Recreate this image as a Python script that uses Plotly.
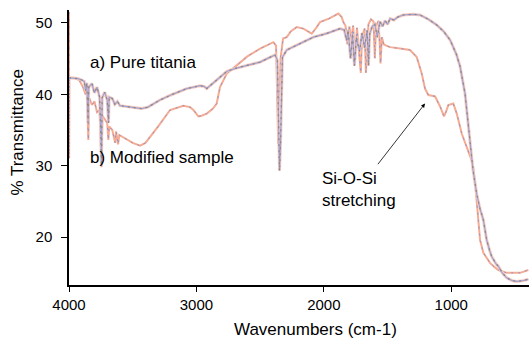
import plotly.graph_objects as go

# Pure titania (curve a)
wn_a = [4000, 3960, 3930, 3900, 3880, 3870, 3860, 3850, 3845, 3820, 3800, 3780, 3760, 3750, 3745,
        3740, 3720, 3700, 3690, 3685, 3660, 3640, 3620, 3600, 3560, 3500, 3430, 3380, 3286, 3200,
        3076, 2972, 2940, 2919, 2880, 2820, 2762, 2700, 2600, 2501, 2420, 2383, 2365, 2355, 2348,
        2340, 2332, 2325, 2291, 2187, 2082, 1980, 1873, 1840, 1820, 1810, 1790, 1775, 1760, 1745,
        1720, 1700, 1680, 1660, 1650, 1640, 1620, 1600, 1580, 1560, 1540, 1520, 1500, 1480, 1450,
        1420, 1378, 1300, 1245, 1180, 1114, 1060, 1009, 960, 931, 892, 870, 852, 830, 800, 775,
        748, 722, 700, 683, 650, 630, 600, 565, 520, 486, 440, 395]
t_a = [42.3, 42.3, 42.2, 42.0, 41.8, 40.5, 41.6, 36.0, 41.0, 41.5, 40.2, 41.0, 39.6, 34.5, 30.0,
       39.5, 40.3, 39.2, 36.0, 39.6, 39.4, 38.6, 39.0, 38.4, 38.3, 38.1, 38.0, 38.2, 39.2, 39.9,
       40.8, 41.2, 41.1, 40.8, 41.4, 42.3, 43.2, 43.6, 44.0, 44.5, 45.2, 45.5, 44.8, 35.0, 29.3,
       33.0, 42.0, 45.2, 46.2, 47.1, 48.0, 48.5, 49.2, 49.0, 47.5, 49.0, 45.0, 48.5, 44.0, 48.0,
       46.0, 48.6, 46.5, 49.0, 44.0, 48.5, 49.5, 49.8, 48.0, 50.2, 49.5, 50.3, 49.8, 50.6, 50.4,
       50.8, 51.1, 51.2, 51.1, 50.5, 49.7, 48.8, 47.6, 45.6, 43.9, 40.1, 36.0, 32.7, 29.5, 26.0, 24.0,
       22.4, 19.6, 18.2, 17.3, 16.3, 15.9, 15.0, 14.3, 13.9, 13.8, 13.9, 14.1]

# Modified sample (curve b)
wn_b = [4000, 3999, 3997, 3960, 3920, 3890, 3870, 3860, 3848, 3842, 3820, 3800, 3780, 3760, 3745,
        3738, 3720, 3700, 3691, 3685, 3660, 3638, 3630, 3615, 3605, 3560, 3500, 3442, 3400, 3300,
        3207, 3103, 3050, 3024, 2985, 2960, 2919, 2870, 2841, 2815, 2762, 2700, 2600, 2500, 2396,
        2375, 2362, 2358, 2350, 2340, 2320, 2291, 2260, 2213, 2161, 2120, 2095, 2060, 2030, 1960,
        1886, 1860, 1847, 1830, 1815, 1800, 1785, 1770, 1755, 1740, 1720, 1710, 1700, 1680, 1670,
        1660, 1650, 1630, 1610, 1600, 1590, 1570, 1555, 1545, 1530, 1510, 1480, 1402, 1324, 1271,
        1232, 1206, 1180, 1150, 1127, 1088, 1057, 1040, 1023, 984, 957, 918, 879, 850, 831, 810,
        787, 774, 748, 720, 696, 660, 630, 565, 500, 460, 395]
t_b = [51.5, 31.0, 42.3, 42.3, 42.0, 41.0, 40.0, 40.5, 33.6, 39.5, 38.5, 39.0, 37.5, 37.8, 29.8,
       37.0, 36.5, 36.0, 33.6, 35.5, 35.0, 33.2, 34.8, 33.0, 34.3, 33.8, 33.2, 32.8, 33.2, 35.5,
       37.8, 38.4, 38.2, 37.8, 36.9, 37.0, 37.3, 38.0, 38.7, 41.0, 42.9, 43.8, 45.3, 46.4, 47.3,
       46.8, 38.0, 33.0, 36.0, 45.0, 47.8, 48.0, 48.8, 49.4, 49.2, 48.8, 48.5, 49.3, 50.1, 50.6,
       51.3, 50.8, 50.1, 49.6, 47.0, 49.5, 47.5, 49.6, 45.0, 49.3, 45.5, 43.0, 48.0, 49.2, 43.0,
       47.0, 49.8, 50.5, 50.2, 45.0, 49.6, 50.3, 44.3, 48.0, 47.0, 46.8, 46.6, 46.4, 46.2, 45.2,
       42.9, 40.8, 39.9, 39.8, 39.7, 38.3, 36.9, 37.6, 38.5, 38.7, 37.3, 34.5, 32.7, 31.2, 30.3, 27.0,
       22.4, 19.6, 17.8, 17.0, 16.4, 15.8, 15.4, 15.0, 15.0, 15.0, 15.4]

x_ticks = [4000, 3000, 2000, 1000]
y_ticks = [20, 30, 40, 50]

FONT = "Liberation Sans, Arial, sans-serif"

fig = go.Figure()
# curve b: salmon with sparse purple dots
fig.add_trace(go.Scatter(x=wn_b, y=t_b, mode="lines", line=dict(color="#f6ab92", width=2),
                         hoverinfo="skip", showlegend=False))
fig.add_trace(go.Scatter(x=wn_b, y=t_b, mode="lines",
                         line=dict(color="#9494c8", width=1, dash="2px,5px"),
                         hoverinfo="skip", showlegend=False))
# curve a: light purple-grey with faint pink halo
fig.add_trace(go.Scatter(x=wn_a, y=t_a, mode="lines", line=dict(color="#f8cdbf", width=3),
                         hoverinfo="skip", showlegend=False))
fig.add_trace(go.Scatter(x=wn_a, y=t_a, mode="lines", line=dict(color="#a2a2d6", width=1.2),
                         hoverinfo="skip", showlegend=False))
fig.add_trace(go.Scatter(x=wn_a, y=t_a, mode="lines",
                         line=dict(color="#8a8a8a", width=1.3, dash="2px,4px"),
                         hoverinfo="skip", showlegend=False))

fig.update_layout(
    width=529, height=338,
    margin=dict(l=69, r=0, t=10, b=53),
    paper_bgcolor="white", plot_bgcolor="white",
    font=dict(family=FONT, size=15, color="black"),
    showlegend=False,
    xaxis=dict(range=[4000, 390], tickvals=x_ticks, showgrid=False, zeroline=False,
               showline=True, linecolor="black", linewidth=1.5, ticks="outside",
               ticklen=5, tickcolor="black", tickwidth=1, tickfont=dict(size=15)),
    yaxis=dict(range=[13.3, 51.8], tickvals=y_ticks, showgrid=False, zeroline=False,
               showline=True, linecolor="black", linewidth=1.5, ticks="outside",
               ticklen=6, tickcolor="black", tickwidth=1, tickfont=dict(size=15),
               ticklabelstandoff=6),
    annotations=[
        dict(text="a) Pure titania", x=3851, y=44.5, xref="x", yref="y", showarrow=False,
             xanchor="left", yanchor="middle", font=dict(size=17)),
        dict(text="b) Modified sample", x=3851, y=31.1, xref="x", yref="y", showarrow=False,
             xanchor="left", yanchor="middle", font=dict(size=17)),
        dict(text="Si-O-Si<br>stretching", x=2030, y=26.7, xref="x", yref="y", showarrow=False,
             xanchor="left", yanchor="middle", align="left", font=dict(size=17)),
        dict(text="", x=1206, y=38.7, ax=1585, ay=30.0, xref="x", yref="y", axref="x", ayref="y",
             showarrow=True, arrowhead=2, arrowsize=1, arrowwidth=0.8, arrowcolor="black"),
        dict(text="Wavenumbers (cm-1)", x=0.536, y=-0.1636, xref="paper", yref="paper",
             showarrow=False, xanchor="center", yanchor="middle", font=dict(size=17)),
        dict(text="% Transmittance", x=-0.112, y=0.556, xref="paper", yref="paper",
             showarrow=False, xanchor="center", yanchor="middle", textangle=-90,
             font=dict(size=17)),
    ],
)

fig.write_html("out.html")
